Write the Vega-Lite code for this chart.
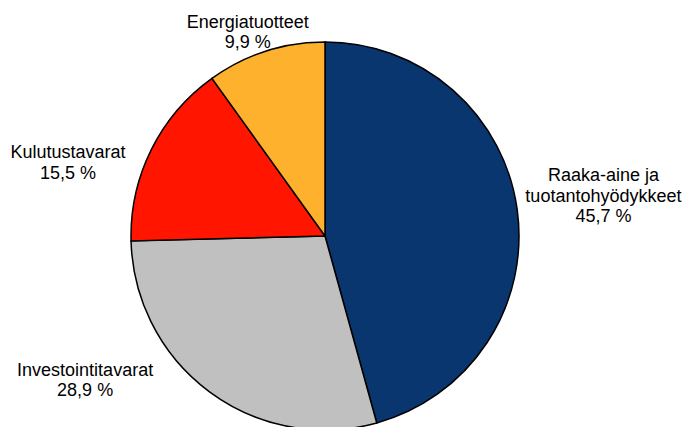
{
  "$schema": "https://vega.github.io/schema/vega-lite/v6.json",
  "autosize": "none",
  "width": 650,
  "height": 382,
  "padding": {"left": 0, "top": 45, "right": 39, "bottom": 0},
  "background": "white",
  "config": {"view": {"stroke": null}},
  "data": {
    "values": [
      {"luokka": "Raaka-aine ja tuotantohyödykkeet", "osuus": 45.7, "jarj": 1, "teksti": "Raaka-aine ja\ntuotantohyödykkeet\n45,7 %"},
      {"luokka": "Investointitavarat", "osuus": 28.9, "jarj": 2, "teksti": "Investointitavarat\n28,9 %"},
      {"luokka": "Kulutustavarat", "osuus": 15.5, "jarj": 3, "teksti": "Kulutustavarat\n15,5 %"},
      {"luokka": "Energiatuotteet", "osuus": 9.9, "jarj": 4, "teksti": "Energiatuotteet\n9,9 %"}
    ]
  },
  "layer": [
    {
      "mark": {"type": "arc", "outerRadius": 194, "stroke": "#000000", "strokeWidth": 1.5},
      "encoding": {
        "theta": {"field": "osuus", "type": "quantitative", "stack": true},
        "order": {"field": "jarj", "type": "quantitative"},
        "color": {
          "field": "luokka",
          "type": "nominal",
          "legend": null,
          "scale": {
            "domain": ["Raaka-aine ja tuotantohyödykkeet", "Investointitavarat", "Kulutustavarat", "Energiatuotteet"],
            "range": ["#0A366F", "#C0C0C0", "#FF1500", "#FDB12C"]
          }
        }
      }
    },
    {
      "transform": [
        {"window": [{"op": "sum", "field": "osuus", "as": "kum"}], "sort": [{"field": "jarj"}], "frame": [null, 0]},
        {"calculate": "datum.kum - datum.osuus / 2", "as": "keski"},
        {"filter": "datum.jarj == 1"}
      ],
      "mark": {"type": "text", "radius": 282, "dx": -1, "dy": -17, "align": "center", "baseline": "alphabetic", "lineBreak": "\n", "lineHeight": 20.5, "font": "Liberation Sans", "fontSize": 18, "color": "#000000"},
      "encoding": {
        "theta": {"field": "keski", "type": "quantitative", "stack": null, "scale": {"domain": [0, 100]}},
        "text": {"field": "teksti"}
      }
    },
    {
      "transform": [
        {"window": [{"op": "sum", "field": "osuus", "as": "kum"}], "sort": [{"field": "jarj"}], "frame": [null, 0]},
        {"calculate": "datum.kum - datum.osuus / 2", "as": "keski"},
        {"filter": "datum.jarj == 2"}
      ],
      "mark": {"type": "text", "radius": 240, "dx": -97, "dy": -53, "align": "center", "baseline": "alphabetic", "lineBreak": "\n", "lineHeight": 20.5, "font": "Liberation Sans", "fontSize": 18, "color": "#000000"},
      "encoding": {
        "theta": {"field": "keski", "type": "quantitative", "stack": null, "scale": {"domain": [0, 100]}},
        "text": {"field": "teksti"}
      }
    },
    {
      "transform": [
        {"window": [{"op": "sum", "field": "osuus", "as": "kum"}], "sort": [{"field": "jarj"}], "frame": [null, 0]},
        {"calculate": "datum.kum - datum.osuus / 2", "as": "keski"},
        {"filter": "datum.jarj == 3"}
      ],
      "mark": {"type": "text", "radius": 287, "dx": 0, "dy": 50, "align": "center", "baseline": "alphabetic", "lineBreak": "\n", "lineHeight": 20.5, "font": "Liberation Sans", "fontSize": 18, "color": "#000000"},
      "encoding": {
        "theta": {"field": "keski", "type": "quantitative", "stack": null, "scale": {"domain": [0, 100]}},
        "text": {"field": "teksti"}
      }
    },
    {
      "transform": [
        {"window": [{"op": "sum", "field": "osuus", "as": "kum"}], "sort": [{"field": "jarj"}], "frame": [null, 0]},
        {"calculate": "datum.kum - datum.osuus / 2", "as": "keski"},
        {"filter": "datum.jarj == 4"}
      ],
      "mark": {"type": "text", "radius": 220, "dx": -10, "dy": 1, "align": "center", "baseline": "alphabetic", "lineBreak": "\n", "lineHeight": 20.5, "font": "Liberation Sans", "fontSize": 18, "color": "#000000"},
      "encoding": {
        "theta": {"field": "keski", "type": "quantitative", "stack": null, "scale": {"domain": [0, 100]}},
        "text": {"field": "teksti"}
      }
    }
  ]
}
